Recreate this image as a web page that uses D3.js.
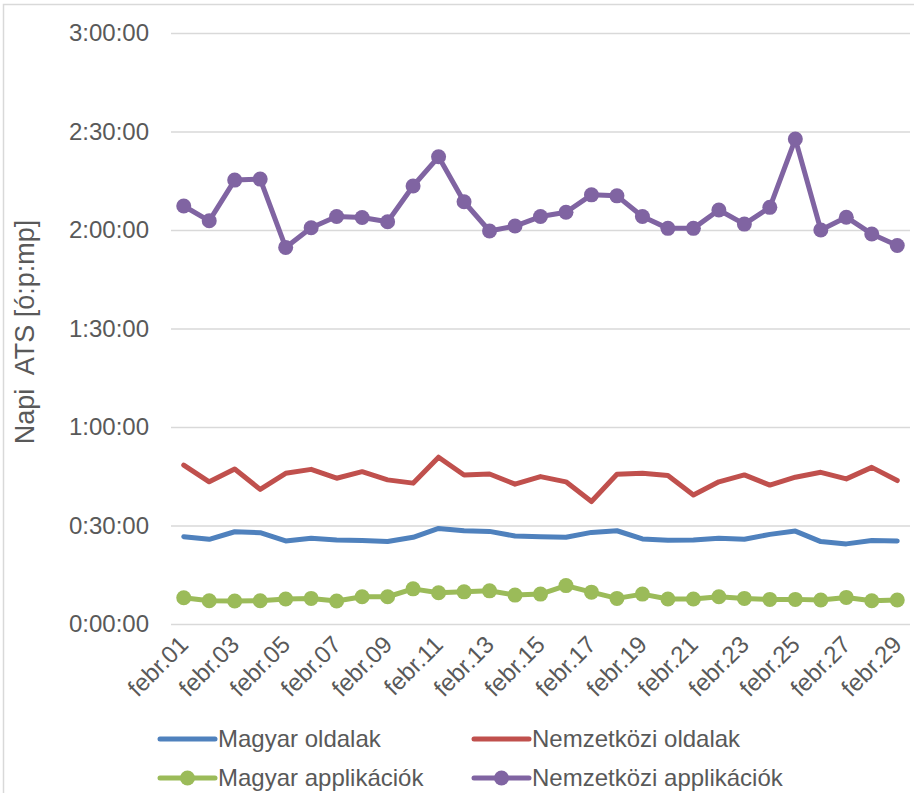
<!DOCTYPE html>
<html>
<head>
<meta charset="utf-8">
<script src="https://cdn.jsdelivr.net/npm/d3@7"></script>
<style>
  html, body { margin: 0; padding: 0; background: #fff; }
  svg { display: block; font-family: "Liberation Sans", Arial, sans-serif; }
</style>
</head>
<body>
<svg id="chart" width="914" height="793"></svg>
<script>
// ---- data (minutes) ----
const days = ["01","02","03","04","05","06","07","08","09","10","11","12","13","14","15",
              "16","17","18","19","20","21","22","23","24","25","26","27","28","29"];
const categories = days.map(d => "febr." + d);

const magyarOldalak = [26.6,25.8,28.1,27.8,25.3,26.1,25.6,25.4,25.1,26.4,29.1,28.4,28.2,26.8,26.6,
                       26.4,27.9,28.4,25.9,25.5,25.6,26.1,25.8,27.3,28.3,25.1,24.4,25.4,25.3];
const nemzetkoziOldalak = [48.4,43.3,47.2,41.0,45.9,47.1,44.4,46.4,43.9,42.9,50.8,45.4,45.7,42.6,44.9,
                           43.3,37.3,45.6,45.9,45.2,39.3,43.3,45.4,42.3,44.7,46.2,44.2,47.7,43.7];
const magyarApp = [8.0,7.1,7.0,7.1,7.6,7.8,7.0,8.3,8.3,10.7,9.5,9.8,10.1,8.8,9.1,
                   11.7,9.7,7.8,9.1,7.6,7.6,8.3,7.8,7.5,7.5,7.3,8.1,7.1,7.3];
const nemzetkoziApp = [127.3,122.8,135.2,135.5,114.7,120.7,124.1,123.8,122.5,133.4,142.3,128.6,119.7,121.2,124.1,
                       125.4,130.7,130.4,124.1,120.5,120.5,126.1,121.8,126.9,147.7,120.0,123.9,118.8,115.3];

const yTickValues = [0, 30, 60, 90, 120, 150, 180];
const yTickLabels = ["0:00:00","0:30:00","1:00:00","1:30:00","2:00:00","2:30:00","3:00:00"];
const xTickLabels = categories.filter((d, i) => i % 2 === 0);

const seriesNames = ["Magyar oldalak","Nemzetközi oldalak","Magyar applikációk","Nemzetközi applikációk"];

const series = [
  { name: seriesNames[0], values: magyarOldalak,     color: "#4F81BD", marker: false },
  { name: seriesNames[1], values: nemzetkoziOldalak, color: "#C0504D", marker: false },
  { name: seriesNames[2], values: magyarApp,         color: "#9BBB59", marker: true },
  { name: seriesNames[3], values: nemzetkoziApp,     color: "#8064A2", marker: true }
];

// ---- layout ----
const svg = d3.select("#chart");
const plot = { left: 171, right: 910, top: 33, bottom: 624 };
const textColor = "#595959";
const gridColor = "#D9D9D9";

// chart frame
svg.append("rect")
  .attr("x", 3.5).attr("y", 4.5)
  .attr("width", 1000).attr("height", 1000)
  .attr("fill", "none").attr("stroke", gridColor).attr("stroke-width", 1.5);

const x = d3.scaleBand().domain(categories).range([plot.left, plot.right]);
const y = d3.scaleLinear().domain([0, 180]).range([plot.bottom, plot.top]);
const cx = d => x(d) + x.bandwidth() / 2;

// grid
const yAxis = d3.axisLeft(y).tickValues(yTickValues)
  .tickSize(-(plot.right - plot.left))
  .tickFormat((d, i) => yTickLabels[i]);
const gy = svg.append("g").attr("transform", `translate(${plot.left},0)`).call(yAxis);
gy.select(".domain").remove();
gy.selectAll(".tick line").attr("stroke", gridColor).attr("stroke-width", 1.5);
gy.selectAll(".tick text")
  .attr("x", -22).attr("fill", textColor)
  .style("font-size", "24px");

// x axis labels
const xAxis = d3.axisBottom(x).tickValues(xTickLabels).tickSize(0);
const gx = svg.append("g").attr("transform", `translate(0,${plot.bottom})`).call(xAxis);
gx.select(".domain").remove();
gx.selectAll(".tick text")
  .attr("fill", textColor)
  .style("font-size", "24px")
  .attr("text-anchor", "end")
  .attr("dy", null)
  .attr("y", 0)
  .attr("transform", "translate(6,22) rotate(-45)");

// y title
svg.append("text")
  .attr("transform", `translate(34,332) rotate(-90)`)
  .attr("text-anchor", "middle")
  .attr("fill", textColor)
  .style("font-size", "27px")
  .style("white-space", "pre")
  .attr("xml:space", "preserve")
  .text("Napi  ATS [ó:p:mp]");

// lines
const line = d3.line().x((d, i) => cx(categories[i])).y(d => y(d));
series.forEach(s => {
  svg.append("path")
    .datum(s.values)
    .attr("fill", "none")
    .attr("stroke", s.color)
    .attr("stroke-width", 5)
    .attr("stroke-linejoin", "round")
    .attr("stroke-linecap", "round")
    .attr("d", line);
  if (s.marker) {
    svg.append("g").selectAll("circle")
      .data(s.values)
      .join("circle")
      .attr("cx", (d, i) => cx(categories[i]))
      .attr("cy", d => y(d))
      .attr("r", 7.5)
      .attr("fill", s.color);
  }
});

// legend
const legendPos = [
  { x: 160, y: 739 }, { x: 474, y: 739 },
  { x: 160, y: 778 }, { x: 474, y: 778 }
];
series.forEach((s, i) => {
  const p = legendPos[i];
  const g = svg.append("g").attr("transform", `translate(${p.x},${p.y})`);
  g.append("line").attr("x1", 0).attr("x2", 55).attr("y1", 0).attr("y2", 0)
    .attr("stroke", s.color).attr("stroke-width", 5).attr("stroke-linecap", "round");
  if (s.marker) g.append("circle").attr("cx", 27.5).attr("cy", 0).attr("r", 7.5).attr("fill", s.color);
  g.append("text").attr("x", 58).attr("y", 0).attr("dy", "0.35em")
    .attr("fill", textColor).style("font-size", "24px").text(s.name);
});
</script>
</body>
</html>
